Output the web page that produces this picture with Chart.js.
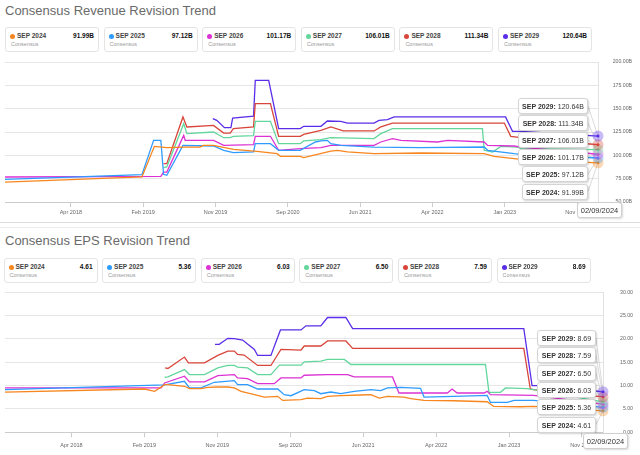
<!DOCTYPE html>
<html>
<head>
<meta charset="utf-8">
<script src="https://cdn.jsdelivr.net/npm/chart.js@4.4.1/dist/chart.umd.min.js"></script>
<style>
  body { margin: 0; width: 640px; height: 455px; background: #fff; overflow: hidden; font-family: "Liberation Sans", Arial, sans-serif; }
  .abs { position: absolute; }
  .title { position: absolute; left: 5px; font-size: 13px; color: #6a6a6a; white-space: nowrap; }
  .lg { position: absolute; width: 92px; height: 23px; border: 1px solid #e4e4e4; border-radius: 3px; background: #fff; }
  .lg .dot { position: absolute; left: 4px; top: 6px; width: 5px; height: 5px; border-radius: 50%; }
  .lg .nm { position: absolute; left: 11px; top: 4px; font-size: 6.5px; font-weight: bold; color: #444; }
  .lg .vl { position: absolute; right: 4px; top: 4px; font-size: 6.5px; font-weight: bold; color: #111; }
  .lg .cs { position: absolute; left: 5px; top: 13px; font-size: 5.5px; color: #999; }
  .tip { position: absolute; height: 16px; line-height: 16px; background: #fff; border: 1px solid #d4d4d4; border-radius: 3px;
         box-shadow: 1px 1px 2px rgba(0,0,0,0.18); font-size: 7px; color: #333; text-align: center; white-space: nowrap; box-sizing: border-box; }
  .tip b { color: #333; }
  .date { position: absolute; height: 16px; line-height: 15px; background: #fff; border: 1px solid #cfcfcf; border-radius: 3px;
          box-shadow: 1px 1px 2px rgba(0,0,0,0.15); font-size: 7.5px; color: #333; text-align: center; box-sizing: border-box; }
  .sep { position: absolute; left: 0; width: 640px; height: 1px; }
</style>
</head>
<body>
<div class="title" style="top:2.5px">Consensus Revenue Revision Trend</div>
<div id="legend1"></div>
<canvas id="revChart" class="abs" style="left:0;top:55px" width="640" height="167"></canvas>
<div id="tips1"></div>
<div class="sep" style="top:222px;background:#dcdcdc"></div>
<div class="sep" style="top:227px;background:#ececec"></div>

<div class="title" style="top:232.5px">Consensus EPS Revision Trend</div>
<div id="legend2"></div>
<canvas id="epsChart" class="abs" style="left:0;top:285px" width="640" height="170"></canvas>
<div id="tips2"></div>

<script>
// series names and colours
const seriesNames = ['SEP 2024', 'SEP 2025', 'SEP 2026', 'SEP 2027', 'SEP 2028', 'SEP 2029'];
const seriesColors = ['#f7861e', '#2f9bff', '#dc32d4', '#63d69c', '#d8453a', '#5a2ee8'];

// x axis ticks
const tickDates = ['2018-04-20', '2019-02-05', '2019-11-23', '2020-09-09', '2021-06-27', '2022-04-14', '2023-01-30', '2023-11-17'];
const tickLabels = ['Apr 2018', 'Feb 2019', 'Nov 2019', 'Sep 2020', 'Jun 2021', 'Apr 2022', 'Jan 2023', 'Nov 2023'];
const startDate = '2017-07-29';
const endDate = '2024-02-09';
const hoverDate = '02/09/2024';

// latest consensus values
const revLatest = [91.99, 97.12, 101.17, 106.01, 111.34, 120.64];
const epsLatest = [4.61, 5.36, 6.03, 6.50, 7.59, 8.69];

// revenue revision history (B)
const rev2024 = [
  ['2017-07-29', 71.4], ['2019-01-31', 76.8], ['2019-03-22', 109.6], ['2019-05-11', 108.2], ['2019-07-18', 108.9],
  ['2019-09-22', 108.9], ['2019-10-05', 110.7], ['2019-11-15', 110.7], ['2020-02-03', 106.4], ['2020-05-08', 104.3],
  ['2020-07-28', 101.8], ['2020-08-10', 98.9], ['2020-10-29', 98.9], ['2020-11-12', 97.5], ['2021-01-18', 101.8],
  ['2021-03-01', 104.6], ['2021-03-28', 105.4], ['2021-05-07', 103.6], ['2021-08-22', 101.8], ['2022-02-26', 102.5],
  ['2022-11-08', 101.8], ['2022-12-18', 98.9], ['2023-03-09', 96.4], ['2023-04-05', 95.7], ['2024-02-09', 91.99]
];
const rev2025 = [
  ['2017-07-29', 74.3], ['2019-01-31', 79.3], ['2019-03-19', 116.1], ['2019-04-17', 116.1], ['2019-04-28', 79.6],
  ['2019-05-11', 78.6], ['2019-07-15', 110.7], ['2019-11-15', 110.0], ['2019-12-26', 105.4], ['2020-02-03', 102.9],
  ['2020-04-24', 103.6], ['2020-05-01', 112.5], ['2020-07-01', 112.5], ['2020-08-03', 105.4], ['2020-10-29', 105.4],
  ['2020-12-29', 114.3], ['2021-01-20', 115.4], ['2021-02-15', 116.1], ['2021-03-01', 112.5], ['2021-04-10', 110.7],
  ['2021-08-22', 108.9], ['2022-02-26', 108.2], ['2022-11-08', 108.9], ['2022-11-22', 105.4], ['2023-03-09', 101.8],
  ['2023-04-05', 101.1], ['2024-02-09', 97.12]
];
const rev2026 = [
  ['2017-07-29', 76.8], ['2019-04-17', 77.5], ['2019-04-28', 82.1], ['2019-05-11', 82.1], ['2019-07-18', 121.4],
  ['2019-07-24', 116.1], ['2019-11-15', 116.1], ['2019-12-26', 110.7], ['2020-04-24', 111.4], ['2020-05-01', 120.4],
  ['2020-07-01', 120.4], ['2020-08-03', 105.4], ['2020-10-29', 107.1], ['2021-01-20', 108.2], ['2021-03-01', 110.7],
  ['2021-08-22', 110.7], ['2021-09-18', 114.3], ['2021-11-04', 117.9], ['2021-12-08', 116.1], ['2022-05-04', 114.3],
  ['2022-06-14', 116.1], ['2022-11-08', 114.3], ['2022-11-22', 110.7], ['2023-03-09', 110.0], ['2023-04-05', 108.9],
  ['2024-02-09', 101.17]
];
const rev2027 = [
  ['2019-04-28', 86.8], ['2019-05-11', 87.5], ['2019-07-18', 133.9], ['2019-07-31', 123.2], ['2019-11-15', 125.0],
  ['2019-12-26', 118.9], ['2020-01-21', 118.9], ['2020-02-03', 120.4], ['2020-04-24', 121.1], ['2020-05-01', 136.4],
  ['2020-07-01', 136.4], ['2020-08-03', 112.5], ['2020-10-29', 112.5], ['2020-11-12', 115.4], ['2021-01-20', 116.8],
  ['2021-03-01', 118.9], ['2021-08-22', 117.9], ['2021-09-18', 123.2], ['2021-11-04', 128.6], ['2022-11-01', 128.6],
  ['2022-11-08', 105.4], ['2022-12-12', 103.6], ['2023-01-14', 109.6], ['2023-03-22', 108.9], ['2023-04-05', 107.1],
  ['2024-02-09', 106.01]
];
const rev2028 = [
  ['2019-04-28', 91.1], ['2019-05-11', 91.1], ['2019-07-15', 141.1], ['2019-07-31', 130.4], ['2019-11-15', 132.1],
  ['2019-12-26', 123.9], ['2020-01-21', 123.9], ['2020-02-03', 128.6], ['2020-04-24', 130.4], ['2020-05-01', 155.4],
  ['2020-07-01', 155.4], ['2020-08-03', 120.4], ['2020-10-29', 120.4], ['2020-11-12', 122.5], ['2021-01-20', 126.8],
  ['2021-03-01', 130.4], ['2021-04-20', 126.1], ['2021-08-22', 126.1], ['2021-09-18', 130.4], ['2021-11-04', 134.6],
  ['2023-01-28', 134.6], ['2023-02-23', 120.4], ['2023-04-05', 119.0], ['2024-02-09', 111.34]
];
const rev2029 = [
  ['2019-11-12', 139.3], ['2019-11-28', 137.5], ['2019-12-29', 129.6], ['2020-01-24', 129.6], ['2020-01-31', 140.0],
  ['2020-04-24', 142.1], ['2020-05-01', 180.4], ['2020-06-24', 180.4], ['2020-08-03', 128.6], ['2020-10-29', 128.6],
  ['2020-11-12', 131.1], ['2021-01-20', 131.1], ['2021-02-15', 136.8], ['2021-04-10', 136.4], ['2021-05-07', 134.6],
  ['2021-08-22', 134.6], ['2021-09-11', 137.5], ['2021-10-15', 138.2], ['2021-11-11', 141.1], ['2023-02-02', 141.1],
  ['2023-03-02', 125.7], ['2023-04-05', 125.7], ['2024-02-09', 120.64]
];

// EPS revision history
const eps2024 = [
  ['2017-07-29', 8.63], ['2019-02-06', 9.28], ['2019-03-18', 8.78], ['2019-04-27', 10.22], ['2019-05-10', 10.22],
  ['2019-07-15', 9.86], ['2019-08-04', 9.35], ['2019-09-19', 9.35], ['2019-10-16', 9.64], ['2019-11-25', 9.71],
  ['2020-01-04', 9.71], ['2020-01-30', 9.50], ['2020-02-26', 8.78], ['2020-04-19', 8.06], ['2020-05-29', 7.55],
  ['2020-07-21', 7.70], ['2020-08-10', 6.83], ['2020-10-22', 6.98], ['2020-11-17', 7.34], ['2021-01-09', 7.20],
  ['2021-02-05', 7.70], ['2021-03-30', 7.84], ['2021-06-18', 7.99], ['2021-07-28', 8.06], ['2021-08-30', 7.34],
  ['2021-10-02', 7.70], ['2021-12-07', 7.55], ['2022-01-03', 7.20], ['2022-02-25', 6.83], ['2022-06-24', 6.76],
  ['2022-11-04', 6.55], ['2022-11-30', 5.54], ['2023-03-17', 5.47], ['2023-05-08', 5.54], ['2024-02-09', 4.61]
];
const eps2025 = [
  ['2017-07-29', 9.14], ['2019-04-27', 10.15], ['2019-07-15', 10.94], ['2019-08-04', 9.50], ['2019-09-19', 9.50],
  ['2019-11-11', 10.72], ['2020-01-30', 11.08], ['2020-02-12', 10.22], ['2020-03-23', 10.22], ['2020-05-02', 9.28],
  ['2020-07-21', 9.28], ['2020-08-16', 8.06], ['2020-09-12', 7.84], ['2020-11-04', 9.14], ['2020-12-14', 8.92],
  ['2021-01-09', 8.27], ['2021-02-18', 8.63], ['2021-03-30', 8.27], ['2021-05-22', 8.78], ['2021-07-28', 9.14],
  ['2021-09-05', 8.92], ['2021-10-02', 9.50], ['2021-11-24', 9.64], ['2022-02-11', 9.42], ['2022-02-25', 7.55],
  ['2022-06-24', 7.70], ['2022-11-04', 7.91], ['2022-11-17', 6.40], ['2023-01-23', 6.40], ['2023-02-19', 6.83],
  ['2023-05-08', 6.83], ['2024-02-09', 5.36]
];
const eps2026 = [
  ['2017-07-29', 9.50], ['2019-04-13', 9.50], ['2019-04-27', 10.58], ['2019-07-15', 12.01], ['2019-08-04', 10.79],
  ['2019-10-03', 10.79], ['2019-11-25', 12.16], ['2020-01-30', 12.37], ['2020-02-12', 11.65], ['2020-03-23', 11.51],
  ['2020-05-02', 10.43], ['2020-07-07', 10.43], ['2020-08-03', 11.65], ['2020-10-22', 11.65], ['2020-11-04', 12.23],
  ['2021-02-05', 12.37], ['2021-04-26', 12.37], ['2021-05-22', 11.87], ['2021-10-22', 11.87], ['2021-11-17', 8.42],
  ['2022-05-29', 8.42], ['2022-06-17', 9.28], ['2022-07-07', 8.42], ['2022-10-22', 8.42], ['2022-11-04', 8.78],
  ['2022-11-17', 8.06], ['2023-05-08', 7.91], ['2024-02-09', 6.03]
];
const eps2027 = [
  ['2019-04-27', 11.80], ['2019-05-10', 11.87], ['2019-07-15', 13.45], ['2019-08-04', 12.37], ['2019-10-03', 12.37],
  ['2019-11-25', 13.81], ['2020-01-04', 14.32], ['2020-01-30', 14.32], ['2020-02-12', 13.96], ['2020-03-23', 13.81],
  ['2020-05-02', 12.37], ['2020-06-24', 12.37], ['2020-07-28', 14.39], ['2020-10-22', 14.39], ['2020-11-04', 15.11],
  ['2021-01-09', 15.25], ['2021-02-05', 15.61], ['2021-04-13', 15.61], ['2021-05-09', 14.53], ['2022-10-28', 14.53],
  ['2022-11-11', 8.56], ['2022-12-27', 8.56], ['2023-01-16', 9.50], ['2023-04-12', 9.35], ['2023-05-08', 9.14],
  ['2024-02-09', 6.50]
];
const eps2028 = [
  ['2019-04-29', 13.81], ['2019-05-10', 13.67], ['2019-07-15', 16.12], ['2019-07-31', 14.89], ['2019-10-03', 14.89],
  ['2019-11-25', 16.47], ['2020-01-04', 17.41], ['2020-01-30', 17.41], ['2020-02-12', 16.69], ['2020-03-09', 16.55],
  ['2020-05-02', 14.32], ['2020-06-24', 14.32], ['2020-08-03', 17.77], ['2020-10-22', 17.63], ['2020-11-04', 18.49],
  ['2021-01-09', 18.49], ['2021-02-05', 19.57], ['2021-04-19', 19.57], ['2021-05-16', 17.99], ['2023-03-30', 17.99],
  ['2023-04-25', 9.28], ['2023-05-08', 9.14], ['2024-02-09', 7.59]
];
const eps2029 = [
  ['2019-11-14', 18.85], ['2019-12-01', 18.85], ['2020-01-04', 20.14], ['2020-01-30', 20.07], ['2020-03-03', 19.78],
  ['2020-04-19', 17.77], ['2020-05-02', 16.47], ['2020-06-24', 16.47], ['2020-08-01', 21.94], ['2020-10-22', 21.94],
  ['2020-11-11', 22.81], ['2021-01-09', 22.81], ['2021-02-05', 24.60], ['2021-04-19', 24.60], ['2021-05-16', 22.23],
  ['2023-03-30', 22.23], ['2023-05-02', 10.00], ['2023-05-21', 10.00], ['2024-02-09', 8.69]
];

const revSeries = [rev2024, rev2025, rev2026, rev2027, rev2028, rev2029];
const epsSeries = [eps2024, eps2025, eps2026, eps2027, eps2028, eps2029];

const day = s => Date.parse(s) / 864e5;

function fmtRev(v) { return v.toFixed(2) + 'B'; }
function fmtEps(v) { return v.toFixed(2); }

// legend cards above each chart
function creerLegende(id, left0, top, latest, fmt) {
  const host = document.getElementById(id);
  seriesNames.forEach((n, i) => {
    const d = document.createElement('div');
    d.className = 'lg';
    d.style.left = (left0 + i * 98.6) + 'px';
    d.style.top = top + 'px';
    d.innerHTML = '<span class="dot" style="background:' + seriesColors[i] + '"></span>' +
      '<span class="nm">' + n + '</span><span class="vl">' + fmt(latest[i]) + '</span>' +
      '<span class="cs">Consensus</span>';
    host.appendChild(d);
  });
}

// hover boxes at the right end, top one is SEP 2029
function creerInfobulles(id, box, latest, fmt) {
  const host = document.getElementById(id);
  for (let k = 0; k < 6; k++) {
    const i = 5 - k;
    const d = document.createElement('div');
    d.className = 'tip';
    const narrow = k >= 4 && box.narrow;
    d.style.left = (narrow ? box.left + 4 : box.left) + 'px';
    d.style.width = (narrow ? box.width - 4 : box.width) + 'px';
    d.style.top = (box.top + k * box.step) + 'px';
    d.innerHTML = '<b>' + seriesNames[i] + ':</b> ' + fmt(latest[i]);
    host.appendChild(d);
  }
  const dt = document.createElement('div');
  dt.className = 'date';
  dt.style.left = box.dateLeft + 'px';
  dt.style.top = box.dateTop + 'px';
  dt.style.width = '45px';
  dt.textContent = hoverDate;
  host.appendChild(dt);
}

// markers + connector lines towards the boxes
function pluginSurvol(box, canvasTop) {
  return {
    id: 'survol',
    afterDatasetsDraw(chart) {
      const ctx = chart.ctx;
      ctx.save();
      for (let k = 0; k < 6; k++) {
        const i = 5 - k;
        const meta = chart.getDatasetMeta(i);
        const pt = meta.data[meta.data.length - 1];
        const by = box.top + k * box.step + 8 - canvasTop;
        ctx.strokeStyle = 'rgba(160,160,160,0.55)';
        ctx.lineWidth = 0.7;
        ctx.beginPath();
        ctx.moveTo(box.left + box.width, by);
        ctx.lineTo(pt.x, pt.y);
        ctx.stroke();
      }
      for (let i = 0; i < 6; i++) {
        const meta = chart.getDatasetMeta(i);
        const pt = meta.data[meta.data.length - 1];
        ctx.fillStyle = seriesColors[i] + '55';
        ctx.beginPath();
        ctx.arc(pt.x, pt.y, 5.5, 0, Math.PI * 2);
        ctx.fill();
        ctx.fillStyle = seriesColors[i];
        ctx.beginPath();
        ctx.arc(pt.x, pt.y, 1.5, 0, Math.PI * 2);
        ctx.fill();
      }
      ctx.restore();
    }
  };
}

function creerGraphique(id, series, yMin, yMax, yStep, fmt, pad, yWidth, xHeight, xPad, box, canvasTop) {
  new Chart(document.getElementById(id), {
    type: 'line',
    data: {
      datasets: series.map((s, i) => ({
        label: seriesNames[i],
        data: s.map(([d, v]) => ({ x: day(d), y: v })),
        borderColor: seriesColors[i],
        borderWidth: 1.3,
        pointRadius: 0,
        tension: 0,
        fill: false
      }))
    },
    options: {
      responsive: false,
      animation: false,
      layout: { padding: pad },
      plugins: { legend: { display: false }, tooltip: { enabled: false } },
      scales: {
        x: {
          type: 'linear',
          min: day(startDate),
          max: day(endDate),
          afterBuildTicks: sc => { sc.ticks = tickDates.map(d => ({ value: day(d) })); },
          afterFit: sc => { sc.height = xHeight; },
          grid: { drawOnChartArea: false, drawTicks: true, tickLength: 5, color: '#cccccc' },
          border: { display: true, color: '#cccccc' },
          ticks: {
            autoSkip: false, maxRotation: 0, padding: xPad,
            color: '#666', font: { size: 5.5, family: 'Liberation Sans' },
            callback: (v, i) => tickLabels[i]
          }
        },
        y: {
          position: 'right',
          min: yMin, max: yMax,
          afterFit: sc => { sc.width = yWidth; },
          grid: { color: '#e6e6e6', drawTicks: false },
          border: { display: true, color: '#e2e2e2' },
          ticks: {
            stepSize: yStep, crossAlign: 'far',
            color: '#666', font: { size: 5.2, family: 'Liberation Sans' },
            callback: v => fmt(v)
          }
        }
      }
    },
    plugins: [pluginSurvol(box, canvasTop)]
  });
}

const box1 = { left: 518, width: 70, top: 98, step: 17.1, narrow: true, dateLeft: 577, dateTop: 202 };
const box2 = { left: 537, width: 59, top: 330, step: 17.3, narrow: false, dateLeft: 583, dateTop: 433 };

creerLegende('legend1', 5, 27, revLatest, fmtRev);
creerLegende('legend2', 3.5, 258, epsLatest, fmtEps);
creerGraphique('revChart', revSeries, 50, 200, 25, fmtRev, { top: 7, left: 5, right: 8, bottom: 0 }, 34, 20, 2, box1, 55);
creerGraphique('epsChart', epsSeries, 0, 30, 5, fmtEps, { top: 7.3, left: 5, right: 7, bottom: 0 }, 30, 22.7, 4.5, box2, 285);
creerInfobulles('tips1', box1, revLatest, fmtRev);
creerInfobulles('tips2', box2, epsLatest, fmtEps);
</script>
</body>
</html>
